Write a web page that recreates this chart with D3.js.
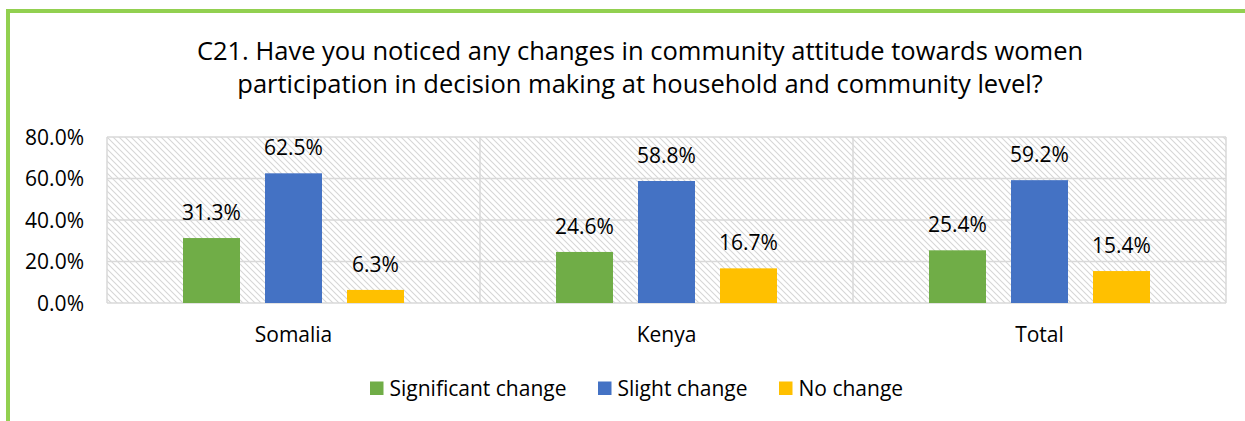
<!DOCTYPE html>
<html>
<head>
<meta charset="utf-8">
<script src="https://cdn.jsdelivr.net/npm/d3@7"></script>
<style>
  html, body { margin: 0; padding: 0; background: #fff; }
  svg { display: block; font-family: "Open Sans", Lato, sans-serif; }
</style>
</head>
<body>
<svg id="chart" width="1245" height="421"></svg>
<script>
// Survey answers per location (percent of respondents)
const categories = ["Somalia", "Kenya", "Total"];
const seriesNames = ["Significant change", "Slight change", "No change"];
const significantChange = [31.3, 24.6, 25.4];
const slightChange = [62.5, 58.8, 59.2];
const noChange = [6.3, 16.7, 15.4];
const yTicks = [0, 20, 40, 60, 80];
const titleLines = [
  "C21. Have you noticed any changes in community attitude towards women",
  "participation in decision making at household and community level?"
];

const seriesValues = [significantChange, slightChange, noChange];
const colors = ["#70ad47", "#4472c4", "#ffc000"];
const FONT = "'Open Sans', Lato, sans-serif";

const svg = d3.select("#chart");

// frame accent (top and left edges)
svg.append("rect").attr("x", 6).attr("y", 9).attr("width", 1245).attr("height", 4).attr("fill", "#92d050");
svg.append("rect").attr("x", 6).attr("y", 9).attr("width", 4).attr("height", 412).attr("fill", "#92d050");

// title
svg.append("g").selectAll("text").data(titleLines).join("text")
  .attr("x", 640).attr("y", (d, i) => 60 + i * 33)
  .attr("text-anchor", "middle")
  .attr("font-size", 25.5)
  .attr("fill", "#000")
  .text(d => d);

const plot = { left: 107, right: 1226, top: 137, bottom: 303 };

const x0 = d3.scaleBand().domain(categories).range([plot.left, plot.right]).paddingInner(0).paddingOuter(0);
const y = d3.scaleLinear().domain([0, 80]).range([plot.bottom, plot.top]);
const barW = 57, step = 82;
const x1 = d3.scaleBand().domain(seriesNames).range([-step * 1.5 + (step - barW) / 2, step * 1.5 - (step - barW) / 2])
  .paddingInner((step - barW) / step).paddingOuter(0);

// hatched plot background
const defs = svg.append("defs");
const pat = defs.append("pattern").attr("id", "hatch").attr("patternUnits", "userSpaceOnUse")
  .attr("width", 6).attr("height", 6);
pat.append("path").attr("d", "M-1,-1 L7,7 M-1,5 L1,7 M5,-1 L7,1")
  .attr("stroke", "#d6d6d6").attr("stroke-width", 1.1).attr("fill", "none");

svg.append("rect").attr("x", plot.left).attr("y", plot.top)
  .attr("width", plot.right - plot.left).attr("height", plot.bottom - plot.top)
  .attr("fill", "url(#hatch)");

// horizontal gridlines
svg.append("g").selectAll("line").data(yTicks).join("line")
  .attr("x1", plot.left).attr("x2", plot.right)
  .attr("y1", d => y(d)).attr("y2", d => y(d))
  .attr("stroke", "#d9d9d9").attr("stroke-width", 1.5);

// vertical separators between categories and at the plot edges
const seps = categories.map(c => x0(c)).concat([plot.right]);
svg.append("g").selectAll("line").data(seps).join("line")
  .attr("x1", d => d).attr("x2", d => d)
  .attr("y1", plot.top).attr("y2", plot.bottom)
  .attr("stroke", "#d9d9d9").attr("stroke-width", 1.5);

// y axis labels
const yAxis = d3.axisLeft(y).tickValues(yTicks).tickFormat(d => d.toFixed(1) + "%").tickSize(0).tickPadding(0);
const yg = svg.append("g").attr("transform", `translate(${84},0)`).call(yAxis);
yg.select(".domain").remove();
yg.selectAll("text").attr("font-size", 21).attr("fill", "#000").attr("font-family", FONT).attr("dy", "0.35em");

// x axis labels
const xAxis = d3.axisBottom(x0).tickSize(0).tickPadding(0);
const xg = svg.append("g").attr("transform", `translate(0,${342})`).call(xAxis);
xg.select(".domain").remove();
xg.selectAll("text").attr("font-size", 21).attr("fill", "#000").attr("font-family", FONT).attr("dy", 0);

// bars and value labels
const rows = categories.map((c, ci) => ({ cat: c, vals: seriesNames.map((s, si) => ({ s, si, v: seriesValues[si][ci] })) }));
const groups = svg.append("g").selectAll("g").data(rows).join("g")
  .attr("transform", d => `translate(${x0(d.cat) + x0.bandwidth() / 2},0)`);

groups.selectAll("rect").data(d => d.vals).join("rect")
  .attr("x", d => x1(d.s)).attr("width", x1.bandwidth())
  .attr("y", d => y(d.v)).attr("height", d => y(0) - y(d.v))
  .attr("fill", d => colors[d.si]);

groups.selectAll("text").data(d => d.vals).join("text")
  .attr("x", d => x1(d.s) + x1.bandwidth() / 2)
  .attr("y", d => y(d.v) - 18)
  .attr("text-anchor", "middle")
  .attr("font-size", 21).attr("fill", "#000")
  .text(d => d.v.toFixed(1) + "%");

// legend
const legendX = [370, 598, 779];
const lg = svg.append("g").selectAll("g").data(seriesNames).join("g")
  .attr("transform", (d, i) => `translate(${legendX[i]},${381.5})`);
lg.append("rect").attr("width", 13.5).attr("height", 13.5).attr("fill", (d, i) => colors[i]);
lg.append("text").attr("x", 19.5).attr("y", 14).attr("font-size", 21).attr("fill", "#000").text(d => d);
</script>
</body>
</html>
